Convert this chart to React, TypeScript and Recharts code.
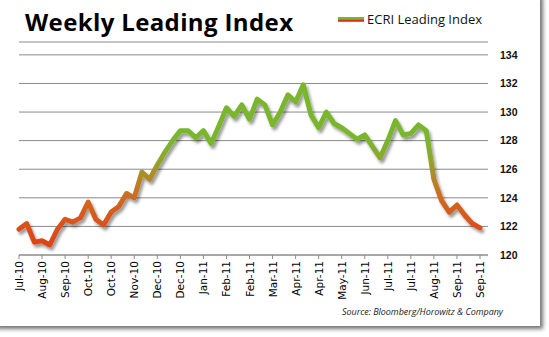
import { LineChart, Line, XAxis, YAxis, CartesianGrid } from 'recharts'

// weekly ECRI leading index, Jul-10 .. Sep-11
const ecri = [
  121.8, 122.2, 120.9, 121.0, 120.7, 121.8, 122.5, 122.3, 122.6, 123.7,
  122.5, 122.1, 123.0, 123.4, 124.3, 124.0, 125.8, 125.3, 126.3, 127.2,
  128.0, 128.7, 128.7, 128.2, 128.7, 127.8, 129.0, 130.3, 129.7, 130.5,
  129.5, 130.9, 130.5, 129.1, 130.0, 131.2, 130.7, 131.9, 129.8, 128.9,
  130.0, 129.2, 128.9, 128.5, 128.1, 128.4, 127.6, 126.8, 128.0, 129.4,
  128.4, 128.5, 129.1, 128.7, 125.3, 123.8, 123.0, 123.5, 122.8, 122.2,
  121.9,
]

// one label every third week
const tickLabels = [
  'Jul-10', 'Aug-10', 'Sep-10', 'Oct-10', 'Oct-10', 'Nov-10', 'Dec-10',
  'Dec-10', 'Jan-11', 'Feb-11', 'Feb-11', 'Mar-11', 'Apr-11', 'Apr-11',
  'May-11', 'Jun-11', 'Jul-11', 'Jul-11', 'Aug-11', 'Sep-11', 'Sep-11',
]

const yTicks = [120, 122, 124, 126, 128, 130, 132, 134]

// line colour by index level (red when low, green when high)
const colorStops: [number, string][] = [
  [128, '#7ab52e'],
  [127, '#87ac2c'],
  [126, '#a3952a'],
  [125, '#bb7f25'],
  [124, '#cf6a20'],
  [122.5, '#d9551c'],
  [121, '#dd4519'],
]

const data = ecri.map((value, week) => ({ week, value }))
const vMax = Math.max(...ecri)
const vMin = Math.min(...ecri)

const GRID = '#8a8a8a'

// eslint-disable-next-line @typescript-eslint/no-explicit-any
function WeekTick({ x, y, payload }: any) {
  return (
    <text
      transform={`translate(${x + 4},${y}) rotate(-90)`}
      textAnchor="end"
      fontFamily="DejaVu Sans"
      fontSize={10.5}
      fill="#000"
    >
      {tickLabels[payload.value / 3]}
    </text>
  )
}

// eslint-disable-next-line @typescript-eslint/no-explicit-any
function ValueTick({ x, y, payload }: any) {
  return (
    <text
      x={x + 1}
      y={y}
      dy={3.8}
      textAnchor="start"
      fontFamily="Liberation Sans"
      fontWeight="bold"
      fontSize={10.5}
      fill="#111"
    >
      {payload.value}
    </text>
  )
}

export default function App() {
  return (
    <div style={{ position: 'absolute', left: 0, top: 0, width: 549, height: 337, background: '#fff' }}>
      <div
        style={{
          position: 'absolute',
          left: -4,
          top: -4,
          width: 544,
          height: 330,
          background: '#fff',
          boxShadow: '2px 2px 4px 1px rgba(0,0,0,0.55)',
        }}
      />
      <div style={{ position: 'absolute', left: 0, top: 0 }}>
        <LineChart width={549} height={337} data={data} margin={{ top: 42, right: 21, bottom: 32, left: 19 }}>
          <defs>
            <linearGradient id="levelFill" x1="0" y1="0" x2="0" y2="1">
              {colorStops.map(([v, c]) => (
                <stop
                  key={v}
                  offset={`${Math.min(100, Math.max(0, ((vMax - v) / (vMax - vMin)) * 100))}%`}
                  stopColor={c}
                />
              ))}
            </linearGradient>
            <filter id="lineShadow" x="-10%" y="-20%" width="120%" height="140%">
              <feDropShadow dx="2" dy="3" stdDeviation="1.4" floodColor="#000" floodOpacity="0.4" />
            </filter>
          </defs>
          <CartesianGrid vertical={false} stroke={GRID} yAxisId="right" />
          <XAxis
            dataKey="week"
            type="category"
            scale="point"
            interval={2}
            padding={{ left: 0, right: 8 }}
            height={50}
            tickSize={4}
            tickMargin={2}
            axisLine={{ stroke: GRID }}
            tickLine={{ stroke: GRID }}
            tick={<WeekTick />}
          />
          <YAxis
            yAxisId="left"
            orientation="left"
            width={0}
            domain={[120, 134.9]}
            tick={false}
            tickLine={false}
            axisLine={{ stroke: GRID }}
          />
          <YAxis
            yAxisId="right"
            orientation="right"
            width={40}
            domain={[120, 134.9]}
            ticks={yTicks}
            tickSize={6}
            tickMargin={5}
            axisLine={false}
            tickLine={false}
            tick={<ValueTick />}
          />
          <Line
            yAxisId="right"
            dataKey="value"
            type="linear"
            stroke="url(#levelFill)"
            strokeWidth={5}
            strokeLinejoin="round"
            strokeLinecap="round"
            filter="url(#lineShadow)"
            dot={false}
            activeDot={false}
            isAnimationActive={false}
          />
        </LineChart>
      </div>
      <svg width={549} height={337} style={{ position: 'absolute', left: 0, top: 0, pointerEvents: 'none' }}>
        <text
          x={25}
          y={31}
          fontFamily="Open Sans"
          fontWeight={700}
          fontSize={24}
          fill="#000"
          textLength={268}
          lengthAdjust="spacing"
        >
          Weekly Leading Index
        </text>
        <rect x={338} y={17} width={26} height={2.6} fill="#7ab52e" />
        <rect x={338} y={19.4} width={26} height={2.4} fill="#d9301c" />
        <text x={367} y={23.5} fontFamily="Open Sans" fontSize={13} fill="#111" textLength={115} lengthAdjust="spacing">
          ECRI Leading Index
        </text>
        <text
          x={342}
          y={315}
          fontFamily="Open Sans"
          fontStyle="italic"
          fontSize={9}
          fill="#222"
          textLength={161}
          lengthAdjust="spacing"
        >
          Source: Bloomberg/Horowitz &amp; Company
        </text>
      </svg>
    </div>
  )
}
